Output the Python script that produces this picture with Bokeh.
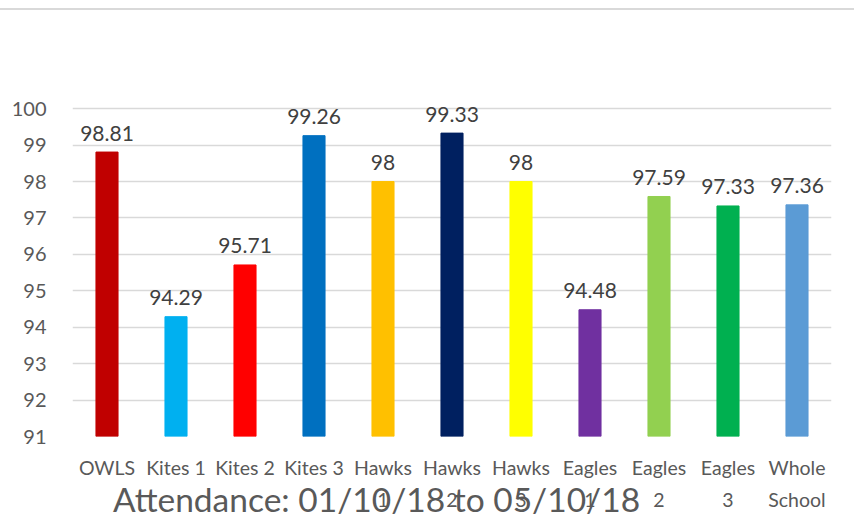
from bokeh.plotting import figure
from bokeh.models import ColumnDataSource, FactorRange, Range1d, Div, FixedTicker
from bokeh.layouts import column
from bokeh.core.properties import value
from bokeh.embed import file_html
from bokeh.resources import INLINE

categories = ["OWLS", "Kites 1", "Kites 2", "Kites 3", "Hawks\n1", "Hawks\n2", "Hawks\n3",
              "Eagles\n1", "Eagles\n2", "Eagles\n3", "Whole\nSchool"]
attendance = [98.81, 94.29, 95.71, 99.26, 98, 99.33, 98, 94.48, 97.59, 97.33, 97.36]
labels = ["98.81", "94.29", "95.71", "99.26", "98", "99.33", "98", "94.48", "97.59", "97.33", "97.36"]
colors = ["#C00000", "#00B0F0", "#FF0000", "#0070C0", "#FFC000", "#002060", "#FFFF00",
          "#7030A0", "#92D050", "#00B050", "#5B9BD5"]
y_ticks = [91, 92, 93, 94, 95, 96, 97, 98, 99, 100]
title_text = "Attendance: 01/10/18 to 05/10/18"

FONT = "Lato"

src = ColumnDataSource(dict(cat=categories, val=attendance, lab=labels, col=colors))

p = figure(x_range=FactorRange(*categories, range_padding=0), y_range=Range1d(91, 100.5),
           frame_width=759, frame_height=346, output_backend="svg", toolbar_location=None,
           min_border_left=72, min_border_right=15, min_border_top=80, min_border_bottom=0)
p.outline_line_color = None

p.vbar(x="cat", top="val", bottom=91, width=0.32, color="col", source=src)
p.text(x="cat", y="val", text="lab", source=src, text_align="center", text_baseline="alphabetic",
       y_offset=-19, text_font=value(FONT), text_font_size="21px", text_color="#404040")

p.yaxis.ticker = FixedTicker(ticks=y_ticks)
p.ygrid.grid_line_color = "#d9d9d9"
p.ygrid.grid_line_width = 1.5
p.xgrid.grid_line_color = None
for ax in (p.xaxis, p.yaxis):
    ax.axis_line_color = None
    ax.major_tick_line_color = None
    ax.minor_tick_line_color = None
    ax.major_label_text_font = FONT
    ax.major_label_text_color = "#595959"
p.yaxis.major_label_text_font_size = "20px"
p.yaxis.major_label_standoff = 20
p.xaxis.major_label_text_font_size = "19.5px"
p.xaxis.major_label_standoff = 13
p.xaxis.major_label_text_line_height = 1.4

top_line = Div(text="", width=854, height=2, styles={"background-color": "#d9d9d9"},
               margin=(8, 0, 0, 0))
title = Div(text=f'<span style="font-family: Lato; font-size: 33.5px; color: #595959; '
                 f'white-space: nowrap; line-height: 40px;">{title_text}</span>',
            width=560, height=40, margin=(-34, 0, 0, 113))
layout = column(top_line, p, title, spacing=0)

open("out.html", "w").write(file_html(layout, INLINE))
